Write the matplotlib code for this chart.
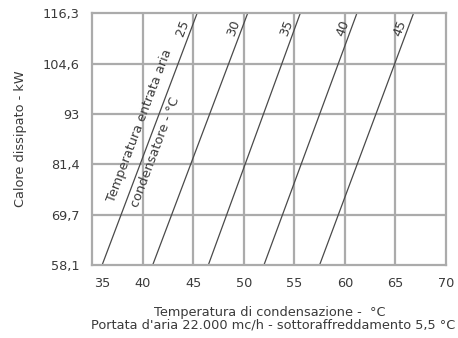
import matplotlib
matplotlib.use("Agg")
import matplotlib.pyplot as plt
import matplotlib.transforms as mtransforms
import numpy as np

plt.rcParams['font.family'] = ['DejaVu Sans']

# air temperature entering condenser (line labels)
air_temps = [25, 30, 35, 40, 45]
# condensing temperature at the bottom (58,1 kW) and top (116,3 kW) of each line
t_cond_bottom = [36.0, 41.0, 46.5, 52.0, 57.5]
t_cond_top = [45.4, 50.4, 55.6, 61.2, 66.8]
q_range = [58.1, 116.3]

x_ticks = [35, 40, 45, 50, 55, 60, 65, 70]
y_ticks = [58.1, 69.7, 81.4, 93.0, 104.6, 116.3]
y_labels = ["58,1", "69,7", "81,4", "93", "104,6", "116,3"]

grid_col = "#ababab"
line_col = "#4a4a4a"
txt_col = "#3a3a3a"
fs = 9.3

fig = plt.figure(figsize=(4.58, 3.38), dpi=100)
ax = fig.add_axes([0.2009, 0.216, 0.7729, 0.7455])

ax.set_xlim(35, 70)
ax.set_ylim(q_range[0], q_range[1])

ax.set_xticks(x_ticks)
ax.set_xticklabels([str(t) for t in x_ticks])
ax.set_yticks(y_ticks)
ax.set_yticklabels(y_labels)
ax.tick_params(length=0, pad=9, labelsize=fs, colors=txt_col)

for t in x_ticks[1:-1]:
    ax.axvline(t, color=grid_col, lw=1.6, zorder=1)
for q in y_ticks[1:-1]:
    ax.axhline(q, color=grid_col, lw=1.6, zorder=1)
for s in ax.spines.values():
    s.set_color(grid_col)
    s.set_linewidth(1.6)

# nudge the first x label to the right like the original
first = ax.get_xticklabels()[0]
first.set_transform(first.get_transform() + mtransforms.ScaledTranslation(0.1, 0, fig.dpi_scale_trans))

for ta, xb, xt in zip(air_temps, t_cond_bottom, t_cond_top):
    ax.plot([xb, xt], q_range, color=line_col, lw=0.9, zorder=2)

# angle of the lines on screen
p0 = ax.transData.transform((t_cond_bottom[0], q_range[0]))
p1 = ax.transData.transform((t_cond_top[0], q_range[1]))
ang = np.degrees(np.arctan2(p1[1] - p0[1], p1[0] - p0[0]))


def x_on_line(i, q):
    xb, xt = t_cond_bottom[i], t_cond_top[i]
    return xb + (q - q_range[0]) / (q_range[1] - q_range[0]) * (xt - xb)


y_lab = 112.9
for i, ta in enumerate(air_temps):
    ax.text(x_on_line(i, y_lab) - 0.85, y_lab, str(ta), rotation=ang, ha='center', va='center',
            fontsize=fs, color=txt_col, rotation_mode='anchor')

ax.text(x_on_line(0, 90.2) - 1.5, 90.2, "Temperatura entrata aria", rotation=ang, ha='center',
        va='center', fontsize=fs, color=txt_col, rotation_mode='anchor')
ax.text(x_on_line(0, 84.2) + 1.0, 84.2, "condensatore - °C", rotation=ang, ha='center',
        va='center', fontsize=fs, color=txt_col, rotation_mode='anchor')

fig.text(0.044, 0.5885, "Calore dissipato - kW", rotation=90, ha='center', va='center',
         fontsize=fs, color=txt_col)
fig.text(0.588, 0.074, "Temperatura di condensazione -  °C", ha='center', va='center',
         fontsize=fs, color=txt_col)
fig.text(0.596, 0.038, "Portata d'aria 22.000 mc/h - sottoraffreddamento 5,5 °C", ha='center',
         va='center', fontsize=fs, color=txt_col)

fig.savefig("out.png", dpi=100)
